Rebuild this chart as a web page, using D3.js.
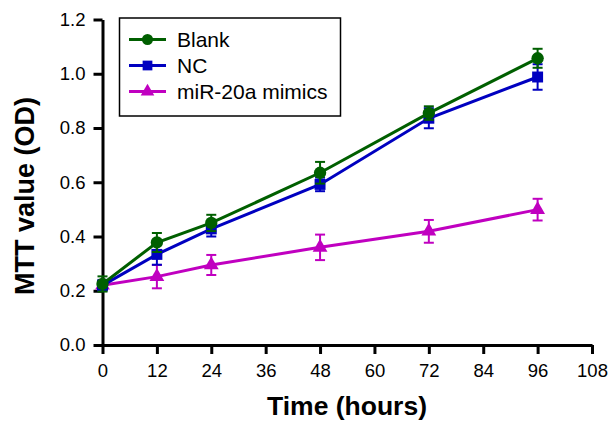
<!DOCTYPE html>
<html lang="en">
<head>
<meta charset="utf-8" />
<title>MTT</title>
<script src="https://d3js.org/d3.v7.min.js"></script>
<style>
  body { margin: 0; background: #fff; }
  text { font-family: "Liberation Sans", Arial, sans-serif; }
</style>
</head>
<body>
<div id="chart"></div>
<script>
// data
var hours = [0, 12, 24, 48, 72, 96];
var blank = [0.225, 0.378, 0.450, 0.635, 0.855, 1.057];
var blankErr = [0.028, 0.035, 0.030, 0.040, 0.025, 0.035];
var nc = [0.220, 0.334, 0.428, 0.592, 0.836, 0.988];
var ncErr = [0.020, 0.038, 0.028, 0.025, 0.037, 0.047];
var mimics = [0.220, 0.252, 0.295, 0.360, 0.419, 0.499];
var mimicsErr = [0.015, 0.043, 0.037, 0.047, 0.042, 0.040];
var xTicks = [0, 12, 24, 36, 48, 60, 72, 84, 96, 108];
var yTicks = [0, 0.2, 0.4, 0.6, 0.8, 1.0, 1.2];

var series = [
  { name: "miR-20a mimics", values: mimics, err: mimicsErr, color: "#c000c0", shape: d3.symbolTriangle },
  { name: "NC", values: nc, err: ncErr, color: "#0000c0", shape: d3.symbolSquare },
  { name: "Blank", values: blank, err: blankErr, color: "#005f00", shape: d3.symbolCircle }
];

var width = 611, height = 422;

var svg = d3.select("#chart").append("svg")
    .attr("width", width)
    .attr("height", height);

var xScale = d3.scaleLinear().domain([0, 108]).range([102.5, 592]);
var yScale = d3.scaleLinear().domain([0, 1.2]).range([345, 19.5]);

// axes
var xAxis = d3.axisBottom(xScale).tickValues(xTicks).tickSize(9).tickSizeOuter(0).tickPadding(10);
var yAxis = d3.axisLeft(yScale).tickValues(yTicks).tickSize(9).tickSizeOuter(0).tickPadding(8)
    .tickFormat(d3.format(".1f"));

var gx = svg.append("g")
    .attr("transform", "translate(0," + yScale(0) + ")")
    .call(xAxis);
var gy = svg.append("g")
    .attr("transform", "translate(" + xScale(0) + ",0)")
    .call(yAxis);

[gx, gy].forEach(function(g) {
  g.select(".domain").attr("stroke", "#000").attr("stroke-width", 3);
  g.selectAll(".tick line").attr("stroke", "#000").attr("stroke-width", 3);
  g.selectAll(".tick text").attr("fill", "#000").style("font-size", "18.5px");
});

// axis titles
svg.append("text")
    .attr("x", 347)
    .attr("y", 415)
    .attr("text-anchor", "middle")
    .style("font-size", "26.5px")
    .style("font-weight", "bold")
    .text("Time (hours)");

svg.append("text")
    .attr("transform", "translate(34,196) rotate(-90)")
    .attr("text-anchor", "middle")
    .style("font-size", "27px")
    .style("font-weight", "bold")
    .text("MTT value (OD)");

var line = d3.line()
    .x(function(d, i) { return xScale(hours[i]); })
    .y(function(d) { return yScale(d); });

series.forEach(function(s) {
  var g = svg.append("g");

  // error bars
  var eb = g.selectAll(".err").data(s.values).enter().append("g");
  eb.append("line")
      .attr("x1", function(d, i) { return xScale(hours[i]); })
      .attr("x2", function(d, i) { return xScale(hours[i]); })
      .attr("y1", function(d, i) { return yScale(d - s.err[i]); })
      .attr("y2", function(d, i) { return yScale(d + s.err[i]); });
  eb.append("line")
      .attr("x1", function(d, i) { return xScale(hours[i]) - 5; })
      .attr("x2", function(d, i) { return xScale(hours[i]) + 5; })
      .attr("y1", function(d, i) { return yScale(d + s.err[i]); })
      .attr("y2", function(d, i) { return yScale(d + s.err[i]); });
  eb.append("line")
      .attr("x1", function(d, i) { return xScale(hours[i]) - 5; })
      .attr("x2", function(d, i) { return xScale(hours[i]) + 5; })
      .attr("y1", function(d, i) { return yScale(d - s.err[i]); })
      .attr("y2", function(d, i) { return yScale(d - s.err[i]); });
  eb.selectAll("line").attr("stroke", s.color).attr("stroke-width", 2);

  g.append("path")
      .datum(s.values)
      .attr("d", line)
      .attr("fill", "none")
      .attr("stroke", s.color)
      .attr("stroke-width", 3);

  g.selectAll(".pt").data(s.values).enter().append("path")
      .attr("d", d3.symbol().type(s.shape).size(s.shape === d3.symbolTriangle ? 95 : 120))
      .attr("transform", function(d, i) { return "translate(" + xScale(hours[i]) + "," + yScale(d) + ")"; })
      .attr("fill", s.color);
});

// legend
var legend = svg.append("g");
legend.append("rect")
    .attr("x", 119.5).attr("y", 18)
    .attr("width", 221).attr("height", 98)
    .attr("fill", "#fff")
    .attr("stroke", "#000")
    .attr("stroke-width", 1.5);

var legendOrder = [series[2], series[1], series[0]];
legendOrder.forEach(function(s, i) {
  var ly = 39.5 + i * 26;
  legend.append("line")
      .attr("x1", 129).attr("x2", 166)
      .attr("y1", ly).attr("y2", ly)
      .attr("stroke", s.color)
      .attr("stroke-width", 3);
  legend.append("path")
      .attr("d", d3.symbol().type(s.shape).size(s.shape === d3.symbolTriangle ? 80 : 95))
      .attr("transform", "translate(147.5," + ly + ")")
      .attr("fill", s.color);
  legend.append("text")
      .attr("x", 177)
      .attr("y", ly + 7.5)
      .style("font-size", "21px")
      .text(s.name);
});
</script>
</body>
</html>
